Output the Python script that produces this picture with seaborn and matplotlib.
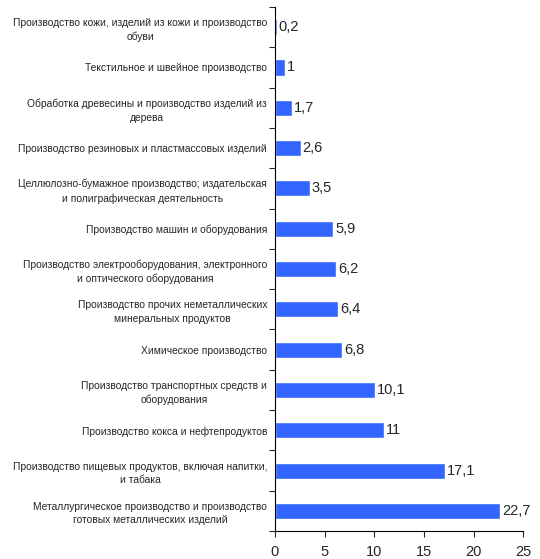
import numpy as np
import pandas as pd
import matplotlib
matplotlib.use("Agg")
import matplotlib.pyplot as plt
from matplotlib.ticker import FixedLocator
import seaborn as sns

# ── Данные ──────────────────────────────────────────────────────────────
categories = [
    "Производство кожи, изделий из кожи и производство\nобуви",
    "Текстильное и швейное производство",
    "Обработка древесины и производство изделий из\nдерева",
    "Производство резиновых и пластмассовых изделий",
    "Целлюлозно-бумажное производство; издательская\nи полиграфическая деятельность",
    "Производство машин и оборудования",
    "Производство электрооборудования, электронного\nи оптического оборудования",
    "Производство прочих неметаллических\nминеральных продуктов",
    "Химическое производство",
    "Производство транспортных средств и\nоборудования",
    "Производство кокса и нефтепродуктов",
    "Производство пищевых продуктов, включая напитки,\nи табака",
    "Металлургическое производство и производство\nготовых металлических изделий",
]
values = [0.2, 1, 1.7, 2.6, 3.5, 5.9, 6.2, 6.4, 6.8, 10.1, 11, 17.1, 22.7]
value_labels = ["0,2", "1", "1,7", "2,6", "3,5", "5,9", "6,2", "6,4", "6,8",
                "10,1", "11", "17,1", "22,7"]
x_ticks = [0, 5, 10, 15, 20, 25]

df = pd.DataFrame({"category": categories, "value": values})

sns.set_style("white")
plt.rcParams["font.family"] = ["Liberation Sans", "DejaVu Sans"]

fig = plt.figure(figsize=(5.4, 5.59), dpi=100)
ax = fig.add_axes([0.509, 0.05, 0.46, 0.9375])

sns.barplot(data=df, x="value", y="category", orient="h", color="#3366FF",
            saturation=1, width=0.4, ax=ax)

for i, (v, lab) in enumerate(zip(values, value_labels)):
    ax.text(v + 0.2, i, lab, va="center", ha="left", fontsize=10.5)

ax.set_xlim(0, 25)
ax.set_ylim(len(categories) - 0.5, -0.5)
ax.set_xticks(x_ticks)
ax.set_xticklabels([str(t) for t in x_ticks], fontsize=10.5)
ax.set_xlabel("")
ax.set_ylabel("")

ax.set_yticks(range(len(categories)))
ax.set_yticklabels(categories, fontsize=7.4, multialignment="center", linespacing=1.45)
ax.tick_params(axis="y", which="major", length=0, pad=5.5)
ax.yaxis.set_minor_locator(FixedLocator(np.arange(-0.5, len(categories), 1)))
ax.tick_params(axis="y", which="minor", length=4, width=0.8, direction="out", left=True)
ax.tick_params(axis="x", which="major", length=4, width=0.8, direction="out", bottom=True, pad=6)

for s in ["top", "right"]:
    ax.spines[s].set_visible(False)
for s in ["left", "bottom"]:
    ax.spines[s].set_color("black")
    ax.spines[s].set_linewidth(0.8)

fig.savefig("out.png", dpi=100)
